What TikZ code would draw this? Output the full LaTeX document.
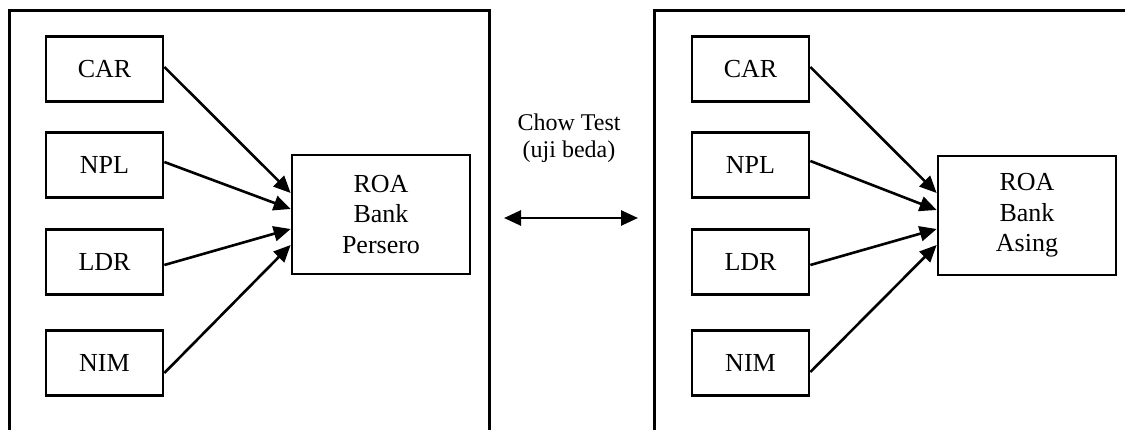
\documentclass[tikz,border=0pt]{standalone}
\usepackage{fontspec}
\setmainfont{Liberation Serif}
\usetikzlibrary{arrows.meta,calc}
\begin{document}
\begin{tikzpicture}[x=1pt,y=-1pt,
  frame/.style={line width=3pt},
  var/.style={draw,line width=2.7pt,minimum width=117pt,minimum height=65pt,inner sep=0pt,font=\fontsize{26}{30.5}\selectfont},
  roa/.style={draw,line width=2.7pt,minimum width=178pt,minimum height=119pt,inner sep=0pt,align=center,font=\fontsize{26}{30.5}\selectfont},
  arr/.style={line width=2.6pt,-{Triangle[length=17pt,width=15pt]}},
  darr/.style={line width=2.6pt,{Triangle[length=17pt,width=15pt]}-{Triangle[length=17pt,width=15pt]}}]
\useasboundingbox (0,0) rectangle (1125,430);
\fill[white] (0,0) rectangle (1125,430);
% outer frames
\draw[frame] (9.5,432) -- (9.5,10.5) -- (489.5,10.5) -- (489.5,432);
\draw[frame] (654,432) -- (654,10.5) -- (1127,10.5);
% left group
\node[var] (carL) at (104.5,69) {CAR};
\node[var] (nplL) at (104.5,165) {NPL};
\node[var] (ldrL) at (104.5,262) {LDR};
\node[var] (nimL) at (104.5,363) {NIM};
\node[roa] (roaL) at (381,214.5) {ROA\\Bank\\Persero};
\draw[arr] ($(carL.east)+(0,-2)$) -- ($(roaL.west)+(0,-21.5)$);
\draw[arr] ($(nplL.east)+(0,-3)$) -- ($(roaL.west)+(0,-5.5)$);
\draw[arr] ($(ldrL.east)+(0,3)$) -- ($(roaL.west)+(0,14.5)$);
\draw[arr] ($(nimL.east)+(0,10)$) -- ($(roaL.west)+(0,30.5)$);
% right group
\node[var] (carR) at (750.5,69) {CAR};
\node[var] (nplR) at (750.5,165) {NPL};
\node[var] (ldrR) at (750.5,262) {LDR};
\node[var] (nimR) at (750.5,363) {NIM};
\node[roa] (roaR) at (1027,215.5) {ROA\\Bank\\Asing};
\draw[arr] ($(carR.east)+(0,-2)$) -- ($(roaR.west)+(0,-22.5)$);
\draw[arr] ($(nplR.east)+(0,-4)$) -- ($(roaR.west)+(0,-5.5)$);
\draw[arr] ($(ldrR.east)+(0,3)$) -- ($(roaR.west)+(0,13.5)$);
\draw[arr] ($(nimR.east)+(0,9)$) -- ($(roaR.west)+(0,29.5)$);
% chow test
\node[align=center,font=\fontsize{24}{27}\selectfont] (chow) at (569,138) {Chow Test\\(uji beda)};
\coordinate (dl) at (504,218);
\coordinate (dr) at (638,218);
\draw[darr] (dl) -- (dr);
\end{tikzpicture}
\end{document}
